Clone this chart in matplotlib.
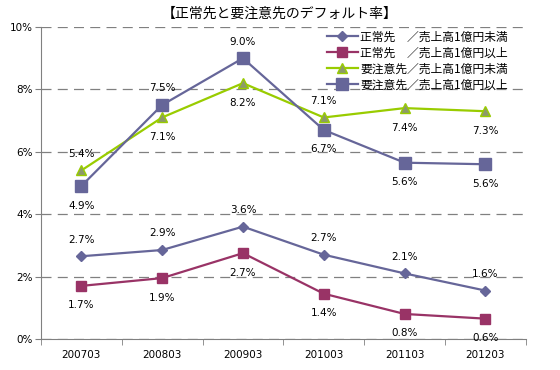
import numpy as np
import matplotlib
matplotlib.use("Agg")
import matplotlib.pyplot as plt

plt.rcParams['font.family'] = ['Noto Sans CJK JP', 'DejaVu Sans']

categories = ['200703', '200803', '200903', '201003', '201103', '201203']
normal_small = [2.65, 2.85, 3.6, 2.7, 2.1, 1.55]      # 正常先／売上高1億円未満
normal_large = [1.7, 1.95, 2.75, 1.45, 0.8, 0.65]      # 正常先／売上高1億円以上
watch_small = [5.4, 7.1, 8.2, 7.1, 7.4, 7.3]           # 要注意先／売上高1億円未満
watch_large = [4.9, 7.5, 9.0, 6.7, 5.65, 5.6]          # 要注意先／売上高1億円以上

labels_ns = ['2.7%', '2.9%', '3.6%', '2.7%', '2.1%', '1.6%']
labels_nl = ['1.7%', '1.9%', '2.7%', '1.4%', '0.8%', '0.6%']
labels_ws = ['5.4%', '7.1%', '8.2%', '7.1%', '7.4%', '7.3%']
labels_wl = ['4.9%', '7.5%', '9.0%', '6.7%', '5.6%', '5.6%']

names = ['正常先　／売上高1億円未満', '正常先　／売上高1億円以上',
         '要注意先／売上高1億円未満', '要注意先／売上高1億円以上']

fig = plt.figure(figsize=(5.6, 3.7), dpi=100)
ax = fig.add_axes([0.073, 0.084, 0.866, 0.843])
x = np.arange(len(categories))

ax.plot(x, normal_small, '-D', color='#666699', lw=1.6, ms=5.5, label=names[0], zorder=3)
ax.plot(x, normal_large, '-s', color='#993366', lw=1.6, ms=7, label=names[1], zorder=3)
ax.plot(x, watch_small, '-^', color='#99CC00', mfc='#8C9A6A', mec='#99CC00',
        lw=1.6, ms=7.5, label=names[2], zorder=3)
ax.plot(x, watch_large, '-s', color='#666699', lw=1.6, ms=8.5, label=names[3], zorder=3)

def put_labels(vals, labs, sides):
    for xi, v, t, s in zip(x, vals, labs, sides):
        off = 12 if s > 0 else -14
        ax.annotate(t, (xi, v), xytext=(0, off), textcoords='offset points',
                    ha='center', va='center', fontsize=7.5, family='DejaVu Sans')

put_labels(normal_small, labels_ns, [1, 1, 1, 1, 1, 1])
put_labels(normal_large, labels_nl, [-1, -1, -1, -1, -1, -1])
put_labels(watch_small, labels_ws, [1, -1, -1, 1, -1, -1])
put_labels(watch_large, labels_wl, [-1, 1, 1, -1, -1, -1])

ax.set_xlim(-0.5, len(categories) - 0.5)
ax.set_ylim(0, 10)
ax.set_yticks(np.arange(0, 11, 2))
ax.set_yticklabels(['%d%%' % v for v in range(0, 11, 2)], fontsize=7.5, family='DejaVu Sans')
ax.set_xticks(x)
ax.set_xticklabels(categories, fontsize=7.5, family='DejaVu Sans')
ax.set_xticks(np.arange(-0.5, len(categories), 1), minor=True)
ax.tick_params(axis='x', which='major', length=0, pad=8)
ax.tick_params(axis='x', which='minor', length=4, color='#808080')
ax.tick_params(axis='y', length=4, color='#808080', pad=2)
ax.yaxis.grid(True, ls=(0, (8, 5)), color='#808080', lw=0.9)
ax.set_axisbelow(True)
for sp in ['top', 'right']:
    ax.spines[sp].set_visible(False)
for sp in ['left', 'bottom']:
    ax.spines[sp].set_color('#808080')

ax.legend(loc='upper right', bbox_to_anchor=(0.915, 0.93),
          bbox_transform=fig.transFigure, frameon=False,
          fontsize=8.5, handlelength=2.6, labelspacing=0.25, borderaxespad=0,
          handletextpad=0.2)
fig.text(0.5, 0.962, '【正常先と要注意先のデフォルト率】', ha='center', va='center', fontsize=10)

fig.savefig('out.png', dpi=100)
